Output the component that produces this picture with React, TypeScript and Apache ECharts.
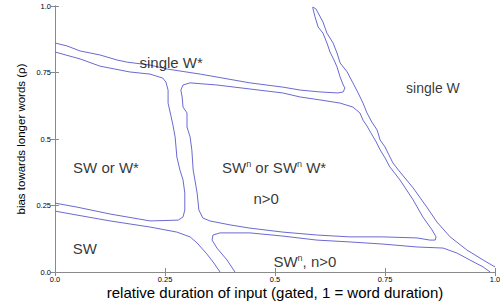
import React, { useEffect, useRef } from "react";
import * as echarts from "echarts";

// Axis tick values and their labels
const tickValues = [0, 0.25, 0.5, 0.75, 1];
const tickLabels = ["0.0", "0.25", "0.5", "0.75", "1.0"];

// Boundary curves (x = relative duration of input, y = bias rho)
// top band upper line + diagonal band (left line, tip, right line)
const curveSingleWStar: [number, number][] = [
  [0, 0.861], [0.027, 0.85], [0.057, 0.831], [0.102, 0.816], [0.141, 0.797], [0.164, 0.789],
  [0.216, 0.778], [0.255, 0.763], [0.33, 0.744], [0.443, 0.711], [0.518, 0.695], [0.557, 0.684],
  [0.602, 0.677], [0.643, 0.673], [0.655, 0.677], [0.659, 0.692], [0.655, 0.703], [0.648, 0.733],
  [0.641, 0.771], [0.634, 0.797], [0.625, 0.827], [0.618, 0.861], [0.609, 0.898], [0.598, 0.921],
  [0.591, 0.959], [0.586, 0.992],
  [0.586, 0.996], [0.593, 0.989], [0.598, 0.974], [0.609, 0.94], [0.618, 0.898], [0.632, 0.861],
  [0.641, 0.823], [0.648, 0.786], [0.664, 0.752], [0.677, 0.711], [0.689, 0.673], [0.7, 0.635],
  [0.709, 0.598], [0.72, 0.564], [0.732, 0.534], [0.739, 0.496], [0.75, 0.47], [0.759, 0.44],
  [0.768, 0.41], [0.784, 0.376], [0.814, 0.316], [0.845, 0.244], [0.868, 0.188], [0.898, 0.132],
  [0.936, 0.083], [0.973, 0.045], [1.0, 0.019],
];

// "SW or W*" region boundary
const curveSWorW: [number, number][] = [
  [0, 0.827], [0.057, 0.801], [0.102, 0.774], [0.17, 0.752], [0.216, 0.744], [0.245, 0.729],
  [0.252, 0.714], [0.257, 0.684], [0.257, 0.635], [0.264, 0.583], [0.268, 0.553], [0.273, 0.508],
  [0.277, 0.432], [0.284, 0.383], [0.291, 0.346], [0.295, 0.297], [0.295, 0.233], [0.291, 0.207],
  [0.28, 0.195], [0.216, 0.192], [0.125, 0.218], [0.05, 0.244], [0, 0.259],
];

// "SW^n or SW^n W*, n>0" region boundary (closed)
const curveSWn: [number, number][] = [
  [0.291, 0.703], [0.307, 0.711], [0.368, 0.703], [0.443, 0.688], [0.518, 0.673], [0.557, 0.658],
  [0.602, 0.647], [0.648, 0.635], [0.677, 0.62], [0.693, 0.598], [0.7, 0.571], [0.709, 0.549],
  [0.718, 0.523], [0.73, 0.489], [0.739, 0.459], [0.75, 0.429], [0.761, 0.395], [0.784, 0.346],
  [0.814, 0.271], [0.836, 0.207], [0.857, 0.158], [0.866, 0.132], [0.864, 0.12], [0.852, 0.12],
  [0.823, 0.128], [0.745, 0.132], [0.67, 0.132], [0.595, 0.139], [0.518, 0.15], [0.443, 0.165],
  [0.398, 0.177], [0.352, 0.192], [0.336, 0.203], [0.327, 0.233], [0.323, 0.297], [0.318, 0.346],
  [0.314, 0.383], [0.311, 0.459], [0.307, 0.508], [0.3, 0.545], [0.3, 0.598], [0.291, 0.62],
  [0.289, 0.658], [0.286, 0.684], [0.291, 0.703],
];

// "SW" region boundary
const curveSW: [number, number][] = [
  [0, 0.229], [0.05, 0.214], [0.125, 0.192], [0.216, 0.169], [0.277, 0.15], [0.307, 0.132],
  [0.323, 0.109], [0.345, 0.068], [0.361, 0.034], [0.375, 0],
];

// "SW^n, n>0" region boundary
const curveSWnBottom: [number, number][] = [
  [0.409, 0], [0.391, 0.045], [0.368, 0.09], [0.357, 0.12], [0.359, 0.139], [0.375, 0.147],
  [0.443, 0.147], [0.518, 0.135], [0.595, 0.12], [0.67, 0.113], [0.745, 0.105], [0.823, 0.094],
  [0.882, 0.09], [0.914, 0.071], [0.943, 0.045], [0.973, 0.019], [0.989, 0],
];

// Region labels
const regionNames = ["single W*", "single W", "SW or W*", "SW{s|n} or SW{s|n} W*", "n>0", "SW", "SW{s|n}, n>0"];
const regionX = [0.264, 0.859, 0.116, 0.498, 0.48, 0.068, 0.568];
const regionY = [0.789, 0.692, 0.391, 0.391, 0.278, 0.09, 0.038];
const regionFont = [15, 14, 15, 15, 15, 15, 15];

const curves = [curveSingleWStar, curveSWorW, curveSWn, curveSW, curveSWnBottom];

const FONT = "Liberation Sans, Arial, Helvetica, sans-serif";
const AXIS_COLOR = "#8a8a8a";
const CURVE_COLOR = "#6a6ad2";

export default function App() {
  const ref = useRef<HTMLDivElement>(null);
  useEffect(() => {
    if (!ref.current) return;
    const chart = echarts.init(ref.current, undefined, { renderer: "svg" });
    const fmt = (v: number) => {
      const i = tickValues.findIndex((t) => Math.abs(t - v) < 1e-9);
      return i >= 0 ? tickLabels[i] : "";
    };
    const baseAxis = {
      type: "value" as const,
      min: 0,
      max: 1,
      interval: 0.25,
      splitLine: { show: false },
      axisLine: { show: true, lineStyle: { color: AXIS_COLOR, width: 1 } },
      axisTick: { show: true, inside: true, length: 4, lineStyle: { color: AXIS_COLOR } },
    };
    chart.setOption({
      animation: false,
      backgroundColor: "#ffffff",
      grid: { left: 55, right: 5, top: 6, bottom: 30, containLabel: false, outerBoundsMode: "none" },
      xAxis: [
        {
          ...baseAxis,
          position: "bottom",
          axisLabel: { formatter: fmt, fontSize: 7.5, color: "#000", fontFamily: FONT, margin: 3 },
          name: "relative duration of input (gated, 1 = word duration)",
          nameLocation: "middle",
          nameGap: 13,
          nameMoveOverlap: false,
          nameTextStyle: { fontSize: 15, color: "#000", fontFamily: FONT },
        },
        { ...baseAxis, position: "top", axisLabel: { show: false } },
      ],
      yAxis: [
        {
          ...baseAxis,
          position: "left",
          axisLabel: { formatter: fmt, fontSize: 7.5, color: "#000", fontFamily: FONT, margin: 4 },
          name: "bias towards longer words (ρ)",
          nameLocation: "middle",
          nameGap: 28,
          nameMoveOverlap: false,
          nameTextStyle: { fontSize: 11.5, color: "#000", fontFamily: FONT },
        },
        { ...baseAxis, position: "right", axisLabel: { show: false } },
      ],
      series: [
        ...curves.map((c) => ({
          type: "line",
          data: c,
          showSymbol: false,
          symbol: "none",
          lineStyle: { color: CURVE_COLOR, width: 1 },
          silent: true,
          z: 2,
        })),
        {
          type: "scatter",
          symbolSize: 0,
          silent: true,
          z: 3,
          data: regionNames.map((n, i) => ({
            name: n,
            value: [regionX[i], regionY[i]],
            label: {
              show: true,
              position: "inside",
              formatter: n,
              fontSize: regionFont[i],
              color: "#000",
              fontFamily: FONT,
              lineHeight: 16,
              rich: {
                s: { fontSize: 9, verticalAlign: "top", lineHeight: 16, color: "#000", fontFamily: FONT, padding: [0, 0, 6, 0] },
              },
            },
          })),
        },
      ],
    });
    return () => chart.dispose();
  }, []);
  return <div ref={ref} style={{ width: 500, height: 302, position: "absolute", left: 0, top: 0 }} />;
}
